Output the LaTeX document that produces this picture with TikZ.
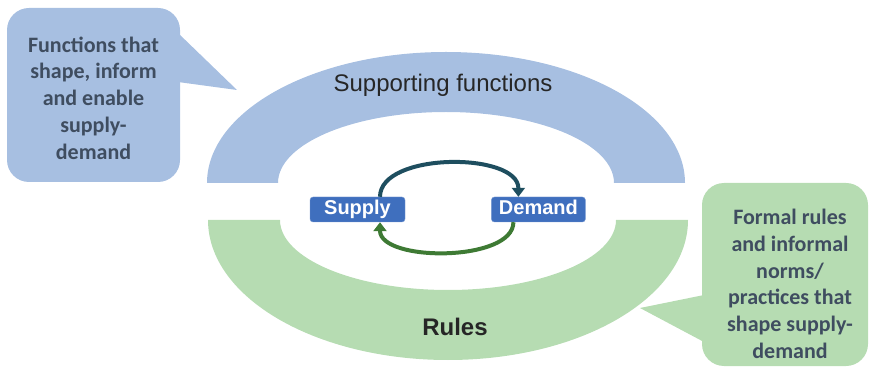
\documentclass[tikz,border=0pt]{standalone}
\usepackage{fontspec}
\setmainfont{Liberation Sans}
\newfontfamily\notefont{Carlito}
\usepackage{tikz}
\usetikzlibrary{arrows.meta,positioning}
\definecolor{archblue}{RGB}{167,191,225}
\definecolor{archgreen}{RGB}{182,220,178}
\definecolor{boxblue}{RGB}{63,111,190}
\definecolor{notetext}{RGB}{63,77,96}
\definecolor{loopteal}{RGB}{30,78,95}
\definecolor{loopgreen}{RGB}{62,122,52}

\begin{document}
\begin{tikzpicture}[x=1pt,y=1pt,
note/.style={font=\notefont\bfseries\fontsize{22}{26.7}\selectfont,text=notetext,align=center},
actor/.style={fill=boxblue,draw=boxblue!70!white,rounded corners=3pt,text=white,
  font=\bfseries\fontsize{20}{24}\selectfont,minimum width=95pt,
  text height=14pt,text depth=4pt,inner ysep=3.5pt,inner xsep=0pt},
title/.style={font=\fontsize{24}{28}\selectfont,text=black!85,anchor=base},
cyclearrow/.style={line width=4pt,-{Triangle[length=9pt,width=13pt]}}]
\useasboundingbox (0,0) rectangle (870,367);

\fill[archblue] (207,184) arc[start angle=180,end angle=0,x radius=239,y radius=131]
  -- (614,184) arc[start angle=0,end angle=180,x radius=168,y radius=71] -- cycle;
\fill[archgreen] (208,147) arc[start angle=180,end angle=360,x radius=240,y radius=140]
  -- (616,147) arc[start angle=360,end angle=180,x radius=168,y radius=70] -- cycle;

\fill[archblue,rounded corners=22pt] (7,185) rectangle (180,359);
\fill[archblue] (178,334) -- (237,277) -- (178,285) -- cycle;
\fill[archgreen,rounded corners=22pt] (702,1) rectangle (868,184);
\fill[archgreen] (704,72) -- (640,59) -- (704,25) -- cycle;

\node[note] (funcnote) at (93.5,269) {Functions that\\shape, inform\\and enable\\supply-\\demand};
\node[note] (rulenote) at (790,83) {Formal rules\\and informal\\norms/\\practices that\\shape supply-\\demand};

\node[title] (support) at (443,275) {Supporting functions};
\node[title,font=\bfseries\fontsize{24}{28}\selectfont] (rules) at (455,32) {Rules};

\node[actor] (supply) at (357.5,157.5) {Supply};
\node[actor,right=86pt of supply,minimum width=94pt] (demand) {Demand};

\draw[cyclearrow,loopteal] ([xshift=22.5pt]supply.north) .. controls +(0,45) and +(0,45) .. ([xshift=-20pt]demand.north);
\draw[cyclearrow,loopgreen] ([xshift=-25pt]demand.south) .. controls +(0,-40) and +(0,-40) .. ([xshift=22.5pt]supply.south);
\end{tikzpicture}
\end{document}
